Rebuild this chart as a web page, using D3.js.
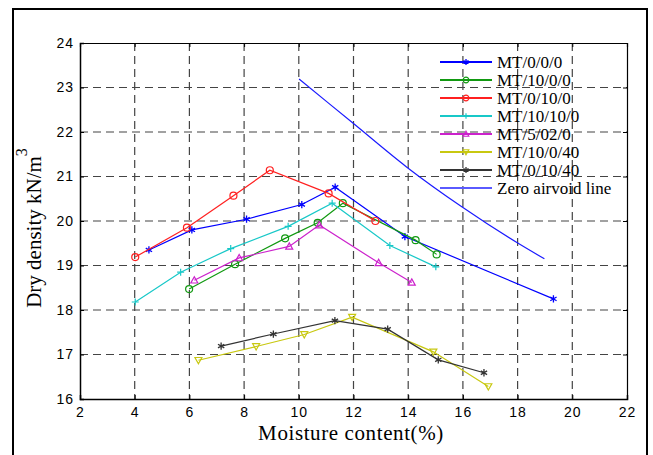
<!DOCTYPE html>
<html>
<head>
<meta charset="utf-8">
<script src="https://cdn.jsdelivr.net/npm/d3@7"></script>
<style>
  body { margin: 0; background: #fff; }
  svg { display: block; }
</style>
</head>
<body>
<svg width="653" height="455"></svg>
<script>
// moisture content (%) and dry density (kN/m3)
var seriesNames = ["MT/0/0/0", "MT/10/0/0", "MT/0/10/0", "MT/10/10/0", "MT/5/02/0", "MT/10/0/40", "MT/0/10/40"];

var mt0000x = [4.52, 6.09, 8.09, 10.11, 11.33, 13.88, 19.31];
var mt0000y = [19.35, 19.80, 20.04, 20.37, 20.76, 19.65, 18.25];

var mt10000x = [5.99, 7.67, 9.50, 10.69, 11.61, 14.27, 15.04];
var mt10000y = [18.47, 19.03, 19.61, 19.96, 20.40, 19.57, 19.25];

var mt01000x = [4.02, 5.91, 7.61, 8.94, 11.09, 12.80];
var mt01000y = [19.19, 19.85, 20.57, 21.14, 20.62, 20.00];

var mt101000x = [4.02, 5.68, 7.51, 9.61, 11.22, 13.33, 15.01];
var mt101000y = [18.18, 18.85, 19.38, 19.88, 20.40, 19.45, 18.97];

var mt5020x = [6.18, 7.82, 9.65, 10.75, 12.92, 14.13];
var mt5020y = [18.67, 19.17, 19.43, 19.91, 19.06, 18.62];

var mt10040x = [6.33, 8.44, 10.20, 11.95, 14.92, 16.93];
var mt10040y = [16.87, 17.18, 17.45, 17.84, 17.06, 16.28];

var mt01040x = [7.16, 9.07, 11.32, 13.25, 15.10, 16.77];
var mt01040y = [17.19, 17.46, 17.76, 17.57, 16.88, 16.59];

var zavX = [10.01, 12.0, 13.95, 15.96, 17.99, 18.98];
var zavY = [23.19, 22.19, 21.21, 20.32, 19.51, 19.15];

var xTicks = [2, 4, 6, 8, 10, 12, 14, 16, 18, 20, 22];
var yTicks = [16, 17, 18, 19, 20, 21, 22, 23, 24];

var svg = d3.select("svg");

// outer frame
svg.append("rect")
    .attr("x", 13).attr("y", 9)
    .attr("width", 634).attr("height", 470)
    .attr("fill", "none")
    .attr("stroke", "#000")
    .attr("stroke-width", 2);

var plotLeft = 80, plotRight = 627, plotTop = 43, plotBottom = 399;

var x = d3.scaleLinear().domain([2, 22]).range([plotLeft, plotRight]);
var y = d3.scaleLinear().domain([16, 24]).range([plotBottom, plotTop]);

// grid
var grid = svg.append("g")
    .attr("stroke", "#444")
    .attr("stroke-width", 1.2)
    .attr("stroke-dasharray", "8,5");

grid.selectAll(".vg")
    .data(xTicks.slice(1, -1))
    .enter().append("line")
    .attr("x1", function(d) { return x(d); })
    .attr("x2", function(d) { return x(d); })
    .attr("y1", plotTop).attr("y2", plotBottom);

grid.selectAll(".hg")
    .data(yTicks.slice(1, -1))
    .enter().append("line")
    .attr("x1", plotLeft).attr("x2", plotRight)
    .attr("y1", function(d) { return y(d); })
    .attr("y2", function(d) { return y(d); });

// axes
var xAxis = d3.axisBottom(x).tickValues(xTicks).tickSize(-4).tickPadding(8);
var yAxis = d3.axisLeft(y).tickValues(yTicks).tickSize(-4).tickPadding(6);

svg.append("g")
    .attr("transform", "translate(0," + plotBottom + ")")
    .call(xAxis)
    .call(function(g) { g.select(".domain").attr("stroke-width", 1.5); });

svg.append("g")
    .attr("transform", "translate(" + plotLeft + ",0)")
    .call(yAxis)
    .call(function(g) { g.select(".domain").attr("stroke-width", 1.5); });

svg.append("g")
    .attr("transform", "translate(0," + plotTop + ")")
    .call(d3.axisTop(x).tickValues(xTicks).tickSize(-4).tickFormat(""))
    .call(function(g) { g.select(".domain").attr("stroke-width", 1.2); });

svg.append("g")
    .attr("transform", "translate(" + plotRight + ",0)")
    .call(d3.axisRight(y).tickValues(yTicks).tickSize(-4).tickFormat(""))
    .call(function(g) { g.select(".domain").attr("stroke-width", 1.2); });

svg.selectAll(".tick text")
    .attr("font-family", "Liberation Sans, Arial, sans-serif")
    .attr("font-size", 14)
    .attr("letter-spacing", 1)
    .attr("fill", "#000");

// axis titles
svg.append("text")
    .attr("x", 351).attr("y", 440)
    .attr("text-anchor", "middle")
    .attr("font-family", "Liberation Serif, Times New Roman, serif")
    .attr("font-size", 21)
    .attr("letter-spacing", 0.6)
    .text("Moisture content(%)");

var yt = svg.append("text")
    .attr("transform", "translate(41,228) rotate(-90)")
    .attr("text-anchor", "middle")
    .attr("font-family", "Liberation Serif, Times New Roman, serif")
    .attr("font-size", 21);
yt.append("tspan").text("Dry density kN/m");
yt.append("tspan").attr("dy", -14).attr("font-size", 16).text("3");

// series
var series = [
    { name: seriesNames[0], xs: mt0000x, ys: mt0000y, color: "#0000ff", marker: "star" },
    { name: seriesNames[1], xs: mt10000x, ys: mt10000y, color: "#119911", marker: "circle" },
    { name: seriesNames[2], xs: mt01000x, ys: mt01000y, color: "#ff2020", marker: "circle" },
    { name: seriesNames[3], xs: mt101000x, ys: mt101000y, color: "#18c8c8", marker: "plus" },
    { name: seriesNames[4], xs: mt5020x, ys: mt5020y, color: "#cc22cc", marker: "tri" },
    { name: seriesNames[5], xs: mt10040x, ys: mt10040y, color: "#c8c810", marker: "tridown" },
    { name: seriesNames[6], xs: mt01040x, ys: mt01040y, color: "#333333", marker: "star" }
];

var line = d3.line()
    .x(function(d) { return x(d[0]); })
    .y(function(d) { return y(d[1]); });

function drawMarker(g, type, color, size) {
    var s = size || 3.5;
    if (type === "circle") {
        g.append("circle").attr("r", s).attr("fill", "none").attr("stroke", color).attr("stroke-width", 1.2);
    } else if (type === "plus") {
        g.append("path").attr("d", "M" + (-s) + ",0H" + s + "M0," + (-s) + "V" + s)
            .attr("stroke", color).attr("stroke-width", 1.2);
    } else if (type === "star") {
        g.append("path").attr("d", d3.symbol().type(d3.symbolAsterisk).size(s * s * 3)())
            .attr("stroke", color).attr("stroke-width", 1.3).attr("fill", "none");
    } else if (type === "tri") {
        g.append("path").attr("d", "M0," + (-s) + "L" + s + "," + (s * 0.8) + "L" + (-s) + "," + (s * 0.8) + "Z")
            .attr("stroke", color).attr("stroke-width", 1.2).attr("fill", "none");
    } else if (type === "tridown") {
        g.append("path").attr("d", "M0," + s + "L" + s + "," + (-s * 0.8) + "L" + (-s) + "," + (-s * 0.8) + "Z")
            .attr("stroke", color).attr("stroke-width", 1.2).attr("fill", "none");
    }
}

series.forEach(function(s) {
    var pts = s.xs.map(function(v, i) { return [v, s.ys[i]]; });
    svg.append("path")
        .datum(pts)
        .attr("d", line)
        .attr("fill", "none")
        .attr("stroke", s.color)
        .attr("stroke-width", 1.2);
    pts.forEach(function(p) {
        var g = svg.append("g").attr("transform", "translate(" + x(p[0]) + "," + y(p[1]) + ")");
        drawMarker(g, s.marker, s.color);
    });
});

// zero air void line
var zavPts = zavX.map(function(v, i) { return [v, zavY[i]]; });
svg.append("path")
    .datum(zavPts)
    .attr("d", line.curve(d3.curveMonotoneX))
    .attr("fill", "none")
    .attr("stroke", "#1a1aff")
    .attr("stroke-width", 1.2);

// legend
var legend = svg.append("g").attr("font-family", "Liberation Serif, Times New Roman, serif").attr("font-size", 17);
var legendItems = series.map(function(s) { return { name: s.name, color: s.color, marker: s.marker }; });
legendItems.push({ name: "Zero airvoid line", color: "#5a5aff", marker: null });

legendItems.forEach(function(d, i) {
    var ly = 62 + i * 18;
    legend.append("line")
        .attr("x1", 440).attr("x2", 492)
        .attr("y1", ly).attr("y2", ly)
        .attr("stroke", d.color)
        .attr("stroke-width", 1.8);
    if (d.marker) {
        var g = legend.append("g").attr("transform", "translate(466," + ly + ")");
        drawMarker(g, d.marker, d.color, 2.8);
    }
    legend.append("text")
        .attr("x", 497).attr("y", ly + 6)
        .text(d.name);
});
</script>
</body>
</html>
